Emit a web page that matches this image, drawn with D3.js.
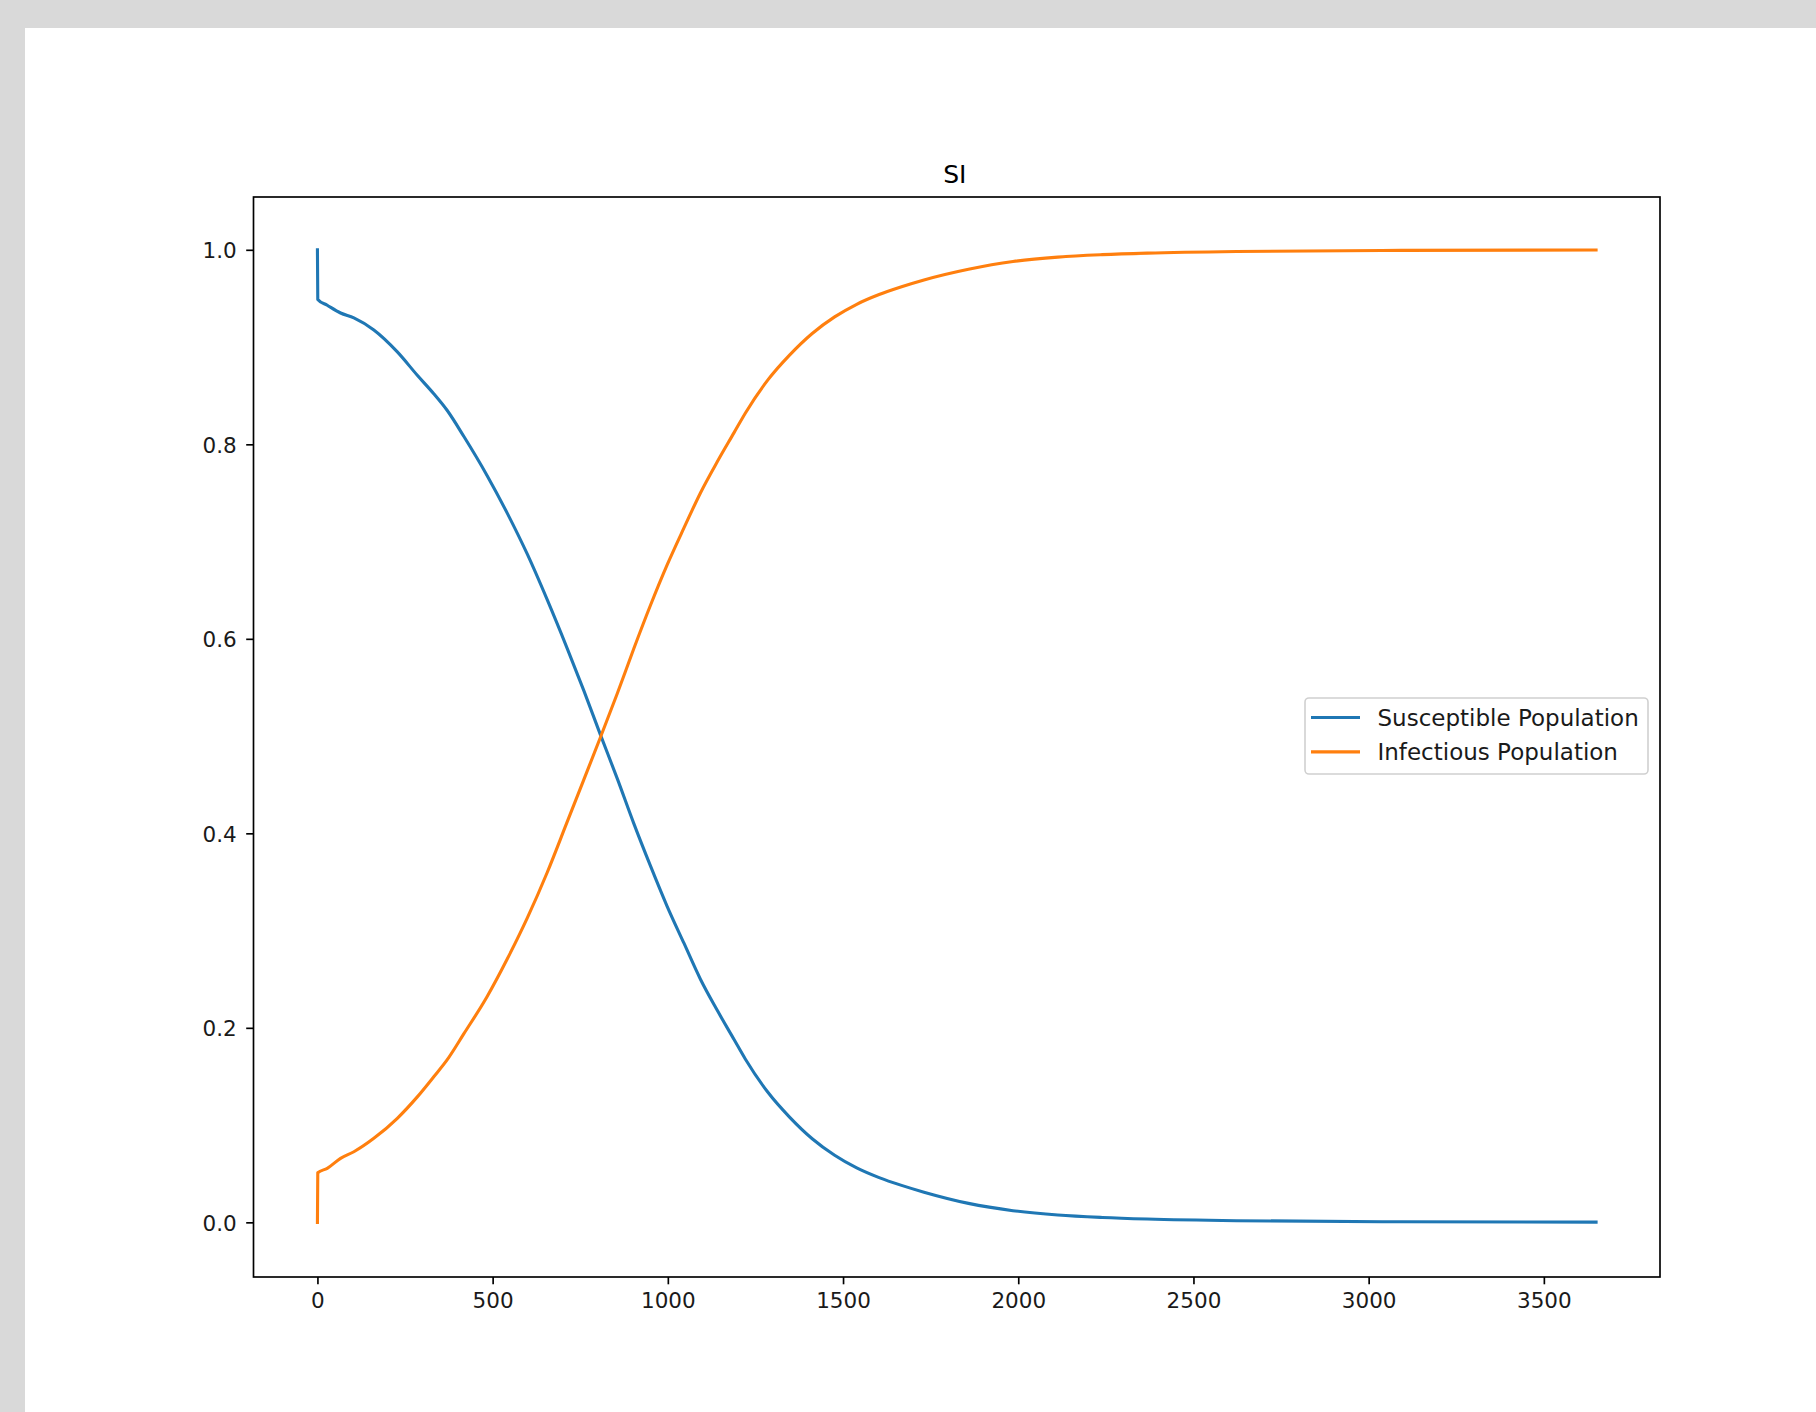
<!DOCTYPE html>
<html><head><meta charset="utf-8">
<script src="https://cdn.jsdelivr.net/npm/d3@7"></script>
<style>html,body{margin:0;padding:0;background:#d9d9d9;overflow:hidden;} svg{display:block;}</style>
</head><body>
<svg id="chart" width="1816" height="1412"></svg>
<script>
const chartTitle = "SI";
const seriesNames = ["Susceptible Population", "Infectious Population"];
const days = [0, 1, 28, 66, 104, 161, 228, 285, 332, 370, 418, 484, 542, 599, 656, 713, 760, 808, 856, 903, 951, 998, 1046, 1093, 1141, 1189, 1221, 1285, 1348, 1412, 1476, 1539, 1603, 1667, 1731, 1858, 1985, 2113, 2240, 2368, 2623, 3092, 3649];
const susceptible = [1.0, 0.949, 0.943, 0.935, 0.930, 0.9175, 0.895, 0.871, 0.852, 0.835, 0.808, 0.768, 0.729, 0.687, 0.640, 0.590, 0.547, 0.501, 0.456, 0.410, 0.366, 0.325, 0.287, 0.250, 0.218, 0.188, 0.168, 0.134, 0.108, 0.086, 0.069, 0.056, 0.046, 0.038, 0.031, 0.0195, 0.012, 0.0075, 0.005, 0.0034, 0.0017, 0.0006, 0.0002];
const infectious = [0.0, 0.051, 0.0555, 0.0658, 0.0726, 0.0864, 0.107, 0.129, 0.1497, 0.167, 0.194, 0.232, 0.271, 0.313, 0.360, 0.412, 0.455, 0.499, 0.544, 0.590, 0.635, 0.676, 0.714, 0.750, 0.782, 0.812, 0.832, 0.866, 0.892, 0.914, 0.931, 0.944, 0.954, 0.962, 0.969, 0.980, 0.988, 0.9925, 0.995, 0.9966, 0.9983, 0.9994, 0.9998];
const xTickValues = [0, 500, 1000, 1500, 2000, 2500, 3000, 3500];
const yTickValues = [0.0, 0.2, 0.4, 0.6, 0.8, 1.0];
const xDomain = [-182.45, 3831.45];
const yDomain = [-0.0562, 1.0543];
const colors = ["#1f77b4", "#ff7f0e"];

const svg = d3.select("#chart");
const W = 1816, H = 1412;
const font = "DejaVu Sans, sans-serif";
const fs = 21.5;

// figure background (white area)
svg.append("rect").attr("x", 25).attr("y", 28).attr("width", W - 25).attr("height", H - 28).attr("fill", "#ffffff");

const plot = {left: 253.5, top: 197, right: 1660, bottom: 1277};
const x = d3.scaleLinear().domain(xDomain).range([plot.left, plot.right]);
const y = d3.scaleLinear().domain(yDomain).range([plot.bottom, plot.top]);

const rows = days.map((d, i) => ({d, s: susceptible[i], inf: infectious[i]}));
const series = [
  {name: seriesNames[0], key: "s", color: colors[0]},
  {name: seriesNames[1], key: "inf", color: colors[1]}
];

const g = svg.append("g");
series.forEach(sr => {
  const line = d3.line().x(r => x(r.d)).y(r => y(r[sr.key])).curve(d3.curveMonotoneX);
  g.append("path").datum(rows).attr("d", line)
    .attr("fill", "none").attr("stroke", sr.color).attr("stroke-width", 3.1)
    .attr("stroke-linejoin", "round").attr("stroke-linecap", "square");
});

// axes
const xAxis = d3.axisBottom(x).tickValues(xTickValues).tickFormat(d3.format("d")).tickSize(7.3).tickPadding(7.5);
const yAxis = d3.axisLeft(y).tickValues(yTickValues).tickFormat(d3.format(".1f")).tickSize(7.3).tickPadding(9.5);
const gx = svg.append("g").attr("transform", `translate(0,${plot.bottom})`).call(xAxis);
const gy = svg.append("g").attr("transform", `translate(${plot.left},0)`).call(yAxis);
[gx, gy].forEach(ax => {
  ax.select(".domain").remove();
  ax.selectAll(".tick line").attr("stroke", "#000").attr("stroke-width", 1.67);
  ax.selectAll(".tick text").attr("fill", "#1a1a1a").style("font-family", font).style("font-size", fs + "px");
});
gx.selectAll(".tick text").attr("dy", "0.76em");
gy.selectAll(".tick text").attr("dy", "0.36em");

// frame
svg.append("rect").attr("x", plot.left).attr("y", plot.top)
  .attr("width", plot.right - plot.left).attr("height", plot.bottom - plot.top)
  .attr("fill", "none").attr("stroke", "#000").attr("stroke-width", 1.67);

// title
svg.append("text").attr("x", (plot.left + plot.right) / 2 - 2).attr("y", 183)
  .attr("text-anchor", "middle").style("font-family", font).style("font-size", "25px")
  .attr("fill", "#000").text(chartTitle);

// legend
const lg = svg.append("g");
lg.append("rect").attr("x", 1305).attr("y", 698).attr("width", 343).attr("height", 76)
  .attr("rx", 4).attr("fill", "#fff").attr("fill-opacity", 0.8)
  .attr("stroke", "#d0d0d0").attr("stroke-width", 1.6);
series.forEach((sr, i) => {
  const cy = 717.5 + i * 34.4;
  lg.append("line").attr("x1", 1311).attr("x2", 1360).attr("y1", cy).attr("y2", cy)
    .attr("stroke", sr.color).attr("stroke-width", 3.1);
  lg.append("text").attr("x", 1377.5).attr("y", cy).attr("dy", "0.36em")
    .style("font-family", font).style("font-size", "23px").attr("fill", "#1a1a1a").text(sr.name);
});
</script>
</body></html>
